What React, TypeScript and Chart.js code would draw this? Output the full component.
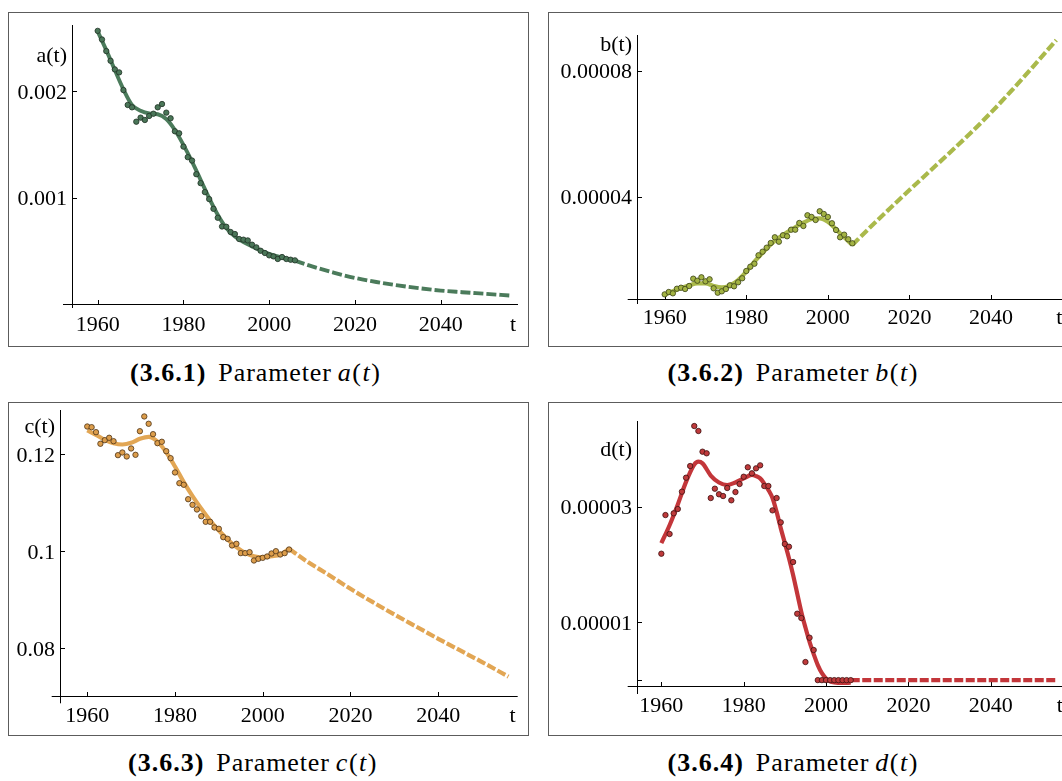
import React, { useEffect, useRef } from "react";
import { Chart, registerables } from "chart.js";

Chart.register(...registerables);

// ---------- data ----------
const YEARS = [
  1960, 1961, 1962, 1963, 1964, 1965, 1966, 1967, 1968, 1969,
  1970, 1971, 1972, 1973, 1974, 1975, 1976, 1977, 1978, 1979,
  1980, 1981, 1982, 1983, 1984, 1985, 1986, 1987, 1988, 1989,
  1990, 1991, 1992, 1993, 1994, 1995, 1996, 1997, 1998, 1999,
  2000, 2001, 2002, 2003, 2004, 2005, 2006,
];

const FIT_YEARS = [
  1960, 1962, 1964, 1966, 1968, 1970, 1972, 1974, 1976, 1978, 1980, 1982,
  1984, 1986, 1988, 1990, 1992, 1994, 1996, 1998, 2000, 2002, 2004, 2006,
];

const PROJ_YEARS = [2006, 2010, 2015, 2020, 2025, 2030, 2035, 2040, 2045, 2050, 2056];

// a(t)
const A_OBS = [
  0.002565, 0.002484, 0.002375, 0.002284, 0.002203, 0.002175, 0.002009, 0.001869, 0.001847, 0.001712,
  0.00175, 0.001728, 0.001766, 0.001787, 0.001847, 0.001878, 0.001797, 0.001744, 0.001622, 0.001603,
  0.001478, 0.001379, 0.001347, 0.001219, 0.001135, 0.001051, 0.000985, 0.000894, 0.00081, 0.000728,
  0.000725, 0.000676, 0.000657, 0.00061, 0.000604, 0.000597, 0.000557, 0.000532, 0.0005, 0.000479,
  0.000457, 0.000447, 0.000423, 0.000441, 0.000423, 0.000416, 0.00041,
];
const A_FIT = [
  0.00256, 0.002384, 0.002197, 0.002016, 0.001869, 0.001815, 0.00179, 0.001782, 0.001737, 0.001634,
  0.001494, 0.001337, 0.001166, 0.000994, 0.000838, 0.000713, 0.000634, 0.000582, 0.000541, 0.000503,
  0.000472, 0.000447, 0.000425, 0.000407,
];
const A_PROJ = [
  0.000407, 0.000353, 0.000295, 0.000245, 0.000207, 0.000175, 0.000148, 0.000126, 0.000111, 0.000097, 0.00008,
];

// b(t)
const B_OBS = [
  0.9e-5, 0.975e-5, 0.933e-5, 1.079e-5, 1.111e-5, 1.07e-5, 1.165e-5, 1.397e-5, 1.333e-5, 1.441e-5,
  1.314e-5, 1.378e-5, 1.092e-5, 0.952e-5, 0.997e-5, 1.07e-5, 1.187e-5, 1.156e-5, 1.283e-5, 1.41e-5,
  1.641e-5, 1.778e-5, 1.873e-5, 2.14e-5, 2.254e-5, 2.381e-5, 2.53e-5, 2.711e-5, 2.571e-5, 2.775e-5,
  2.743e-5, 2.952e-5, 2.952e-5, 3.165e-5, 3.07e-5, 3.409e-5, 3.356e-5, 3.26e-5, 3.537e-5, 3.451e-5,
  3.356e-5, 3.156e-5, 2.943e-5, 2.711e-5, 2.794e-5, 2.648e-5, 2.52e-5,
];
const B_FIT = [
  0.889e-5, 0.997e-5, 1.1e-5, 1.187e-5, 1.25e-5, 1.25e-5, 1.165e-5, 1.12e-5, 1.187e-5, 1.355e-5,
  1.62e-5, 1.937e-5, 2.222e-5, 2.487e-5, 2.698e-5, 2.868e-5, 3.028e-5, 3.175e-5, 3.29e-5, 3.314e-5,
  3.206e-5, 2.964e-5, 2.711e-5, 2.467e-5,
];
const B_PROJ = [
  2.467e-5, 2.98e-5, 3.6e-5, 4.21e-5, 4.81e-5, 5.41e-5, 6.02e-5, 6.67e-5, 7.36e-5, 8.08e-5, 8.97e-5,
];

// c(t)
const C_OBS = [
  0.12577, 0.12563, 0.1246, 0.12221, 0.12295, 0.12344, 0.12274, 0.11986, 0.12041, 0.11959,
  0.12124, 0.11993, 0.1248, 0.12784, 0.12633, 0.12419, 0.12233, 0.12262, 0.12068, 0.11924,
  0.11629, 0.11408, 0.11375, 0.11078, 0.10962, 0.10866, 0.10728, 0.10612, 0.10612, 0.10495,
  0.10468, 0.10295, 0.10261, 0.10124, 0.10158, 0.09966, 0.09966, 0.09986, 0.09814, 0.09849,
  0.09869, 0.09897, 0.09959, 0.10006, 0.09938, 0.09966, 0.10041,
];
const C_FIT = [
  0.12495, 0.12405, 0.12302, 0.12233, 0.12206, 0.1224, 0.12323, 0.12364, 0.12268, 0.12047,
  0.11753, 0.11429, 0.1114, 0.1088, 0.10639, 0.10433, 0.10247, 0.10089, 0.09973, 0.09903,
  0.09883, 0.09903, 0.09938, 0.10056,
];
const C_PROJ = [
  0.10056, 0.098, 0.0952, 0.0923, 0.0896, 0.087, 0.0845, 0.082, 0.0796, 0.0772, 0.0742,
];

// d(t)
const D_OBS = [
  2.187e-5, 2.856e-5, 2.528e-5, 2.886e-5, 2.96e-5, 3.26e-5, 3.502e-5, 3.704e-5, 4.396e-5, 4.31e-5,
  3.952e-5, 3.924e-5, 3.15e-5, 3.312e-5, 3.215e-5, 3.185e-5, 3.324e-5, 3.111e-5, 3.254e-5, 3.393e-5,
  3.519e-5, 3.682e-5, 3.578e-5, 3.664e-5, 3.716e-5, 3.358e-5, 3.358e-5, 2.937e-5, 3.15e-5, 2.73e-5,
  2.355e-5, 2.308e-5, 2.043e-5, 1.149e-5, 1.074e-5, 0.313e-5, 0.734e-5, 0.521e-5, 0, 0,
  0, 0, 0, 0, 0, 0, 0,
];
const D_FIT_YEARS = [
  1960, 1962, 1964, 1966, 1968, 1969, 1970, 1972, 1974, 1976, 1978, 1980, 1982, 1983, 1984, 1985,
  1986, 1987, 1988, 1989, 1990, 1991, 1992, 1993, 1994, 1995, 1996, 1997, 1998, 1999, 2000, 2001,
  2002, 2004, 2006,
];
const D_FIT = [
  2.37e-5, 2.68e-5, 3.04e-5, 3.43e-5, 3.73e-5, 3.78e-5, 3.75e-5, 3.54e-5, 3.42e-5, 3.375e-5, 3.42e-5,
  3.49e-5, 3.55e-5, 3.53e-5, 3.49e-5, 3.4e-5, 3.29e-5, 3.15e-5, 2.91e-5, 2.63e-5, 2.37e-5, 2.11e-5,
  1.82e-5, 1.5e-5, 1.18e-5, 0.91e-5, 0.66e-5, 0.45e-5, 0.26e-5, 0.12e-5, 0.03e-5, -0.02e-5,
  -0.04e-5, -0.05e-5, -0.045e-5,
];
const D_PROJ_YEARS = [2006, 2056];
const D_PROJ = [0, 0];

// ---------- ticks & labels ----------
const X_TICKS = [1960, 1980, 2000, 2020, 2040];
const X_TICK_LABELS = ["1960", "1980", "2000", "2020", "2040"];
const A_TICKS = [0.001, 0.002];
const A_TICK_LABELS = ["0.001", "0.002"];
const B_TICKS = [0.00004, 0.00008];
const B_TICK_LABELS = ["0.00004", "0.00008"];
const C_TICKS = [0.08, 0.1, 0.12];
const C_TICK_LABELS = ["0.08", "0.1", "0.12"];
const D_TICKS = [0, 0.00001, 0.00003];
const D_TICK_LABELS = ["", "0.00001", "0.00003"];

const CAPTION_NUMBERS = ["3.6.1", "3.6.2", "3.6.3", "3.6.4"];
const PARAM_NAMES = ["a", "b", "c", "d"];

// ---------- panel layout & style ----------
type Panel = {
  left: number; top: number; width: number; height: number;
  area: { l: number; t: number; r: number; b: number };
  xMin: number; xMax: number; yMin: number; yMax: number;
  crossX: number; crossY: number;
  yTicks: number[]; yTickLabels: string[];
  yNameDrop: number; xLabelDrop: number;
  obs: number[]; fitYears: number[]; fit: number[]; projYears: number[]; proj: number[];
  line: string; fill: string; edge: string; lineW: number; dash: number[];
  capLeft: number; capTop: number;
};

const PANELS: Panel[] = [
  {
    left: 8, top: 12, width: 521, height: 335,
    area: { l: 55, t: 13, r: 510, b: 296 },
    xMin: 1951.907, xMax: 2058.03, yMin: -0.0000375, yMax: 0.00262,
    crossX: 1954.07, crossY: 0,
    yTicks: A_TICKS, yTickLabels: A_TICK_LABELS, yNameDrop: 37.3, xLabelDrop: 26,
    obs: A_OBS, fitYears: FIT_YEARS, fit: A_FIT, projYears: PROJ_YEARS, proj: A_PROJ,
    line: "#4b7b5b", fill: "#4a7658", edge: "#1f3125", lineW: 3.9, dash: [10, 3],
    capLeft: 130, capTop: 360.5,
  },
  {
    left: 548, top: 12, width: 527, height: 335,
    area: { l: 79.7, t: 23, r: 516.4, b: 292 },
    xMin: 1950.93, xMax: 2057.99, yMin: 5.94e-6, yMax: 9.13e-5,
    crossX: 1953.1, crossY: 7.4e-6,
    yTicks: B_TICKS, yTickLabels: B_TICK_LABELS, yNameDrop: 15.7, xLabelDrop: 24.7,
    obs: B_OBS, fitYears: FIT_YEARS, fit: B_FIT, projYears: PROJ_YEARS, proj: B_PROJ,
    line: "#aab94b", fill: "#a3b343", edge: "#3a4116", lineW: 4.2, dash: [9, 3],
    capLeft: 667.5, capTop: 360.5,
  },
  {
    left: 8, top: 402, width: 521, height: 334,
    area: { l: 43.7, t: 8, r: 509.7, b: 301.3 },
    xMin: 1951.9, xMax: 2058.11, yMin: 0.0687, yMax: 0.12917,
    crossX: 1953.9, crossY: 0.0702,
    yTicks: C_TICKS, yTickLabels: C_TICK_LABELS, yNameDrop: 22.7, xLabelDrop: 25,
    obs: C_OBS, fitYears: FIT_YEARS, fit: C_FIT, projYears: PROJ_YEARS, proj: C_PROJ,
    line: "#e2a654", fill: "#dc9d4b", edge: "#4d3418", lineW: 4.2, dash: [9, 2.5],
    capLeft: 128, capTop: 750.5,
  },
  {
    left: 548, top: 402, width: 527, height: 334,
    area: { l: 79.7, t: 19, r: 516.8, b: 292 },
    xMin: 1951.83, xMax: 2057.99, yMin: -2.4e-6, yMax: 4.483e-5,
    crossX: 1954.0, crossY: -0.97e-6,
    yTicks: D_TICKS, yTickLabels: D_TICK_LABELS, yNameDrop: 35, xLabelDrop: 25,
    obs: D_OBS, fitYears: D_FIT_YEARS, fit: D_FIT, projYears: D_PROJ_YEARS, proj: D_PROJ,
    line: "#c3363a", fill: "#bf3a3b", edge: "#3d1010", lineW: 4.2, dash: [9, 2.5],
    capLeft: 667.5, capTop: 750.5,
  },
];

const TICK_FONT = '22px "Liberation Serif"';

// Axes that cross inside the plot, with inward tick marks, drawn from the chart's scales.
function crossingAxes(p: Panel, yName: string) {
  return {
    id: "crossingAxes",
    beforeDatasetsDraw(chart: any) {
      const { ctx, chartArea: ca, scales } = chart;
      const xs = scales.x;
      const ys = scales.y;
      const ax = Math.round(xs.getPixelForValue(p.crossX)) + 0.5;
      const ay = Math.round(ys.getPixelForValue(p.crossY)) + 0.5;
      ctx.save();
      ctx.strokeStyle = "#000";
      ctx.lineWidth = 1;
      ctx.beginPath();
      ctx.moveTo(ca.left, ay);
      ctx.lineTo(ca.right, ay);
      ctx.moveTo(ax, ca.top);
      ctx.lineTo(ax, ca.bottom);
      X_TICKS.forEach((v) => {
        const px = Math.round(xs.getPixelForValue(v)) + 0.5;
        ctx.moveTo(px, ay);
        ctx.lineTo(px, ay - 4.5);
      });
      p.yTicks.forEach((v) => {
        const py = Math.round(ys.getPixelForValue(v)) + 0.5;
        ctx.moveTo(ax, py);
        ctx.lineTo(ax + 4.5, py);
      });
      ctx.stroke();

      ctx.fillStyle = "#000";
      ctx.font = TICK_FONT;
      ctx.textBaseline = "alphabetic";
      ctx.textAlign = "center";
      X_TICKS.forEach((v, i) => {
        ctx.fillText(X_TICK_LABELS[i], xs.getPixelForValue(v), ay + p.xLabelDrop);
      });
      ctx.textAlign = "right";
      ctx.fillText("t", ca.right - 2, ay + p.xLabelDrop);
      p.yTicks.forEach((v, i) => {
        if (p.yTickLabels[i]) ctx.fillText(p.yTickLabels[i], ax - 5.5, ys.getPixelForValue(v) + 7.7);
      });
      ctx.fillText(yName + "(t)", ax - 5.5, ca.top + p.yNameDrop);
      ctx.restore();
    },
  };
}

function PanelChart({ p, index }: { p: Panel; index: number }) {
  const ref = useRef<HTMLCanvasElement>(null);

  useEffect(() => {
    const canvas = ref.current;
    if (!canvas) return;
    const obsPts = YEARS.map((x, i) => ({ x, y: p.obs[i] }));
    const fitPts = p.fitYears.map((x, i) => ({ x, y: p.fit[i] }));
    const projPts = p.projYears.map((x, i) => ({ x, y: p.proj[i] }));

    const chart = new Chart(canvas, {
      type: "scatter",
      data: {
        datasets: [
          {
            data: obsPts,
            showLine: false,
            pointRadius: 2.7,
            pointBorderWidth: 0.8,
            pointBackgroundColor: p.fill,
            pointBorderColor: p.edge,
          },
          {
            data: fitPts,
            showLine: true,
            borderColor: p.line,
            borderWidth: p.lineW,
            pointRadius: 0,
            cubicInterpolationMode: "monotone",
            borderCapStyle: "butt",
          },
          {
            data: projPts,
            showLine: true,
            borderColor: p.line,
            borderWidth: p.lineW,
            borderDash: p.dash,
            pointRadius: 0,
            cubicInterpolationMode: "monotone",
            borderCapStyle: "butt",
          },
        ],
      } as any,
      options: {
        animation: false,
        responsive: false,
        devicePixelRatio: 1,
        events: [],
        layout: {
          padding: {
            left: p.area.l,
            top: p.area.t,
            right: p.width - p.area.r,
            bottom: p.height - p.area.b,
          },
        },
        plugins: { legend: { display: false }, tooltip: { enabled: false } },
        scales: {
          x: { type: "linear", min: p.xMin, max: p.xMax, display: false },
          y: { type: "linear", min: p.yMin, max: p.yMax, display: false },
        },
      },
      plugins: [crossingAxes(p, PARAM_NAMES[index])],
    });
    return () => chart.destroy();
  }, [p, index]);

  return (
    <>
      <canvas
        ref={ref}
        width={p.width}
        height={p.height}
        style={{ position: "absolute", left: p.left, top: p.top, width: p.width, height: p.height, display: "block" }}
      />
      <div
        style={{
          position: "absolute",
          left: p.left,
          top: p.top,
          width: p.width,
          height: p.height,
          boxSizing: "border-box",
          border: "1px solid #5c5c5c",
          pointerEvents: "none",
        }}
      />
      <div
        style={{
          position: "absolute",
          left: p.capLeft,
          top: p.capTop,
          fontFamily: '"Liberation Serif", serif',
          fontSize: 26,
          lineHeight: "24px",
          whiteSpace: "nowrap",
          color: "#000",
          letterSpacing: "0.9px",
        }}
      >
        <b style={{ letterSpacing: "1px" }}>({CAPTION_NUMBERS[index]})</b>
        <span style={{ marginLeft: 12 }}>Parameter</span>
        <span style={{ marginLeft: 6, letterSpacing: "1.5px" }}>
          <i>{PARAM_NAMES[index]}</i>(<i>t</i>)
        </span>
      </div>
    </>
  );
}

export default function App() {
  return (
    <div
      style={{
        position: "absolute",
        left: 0,
        top: 0,
        width: 1062,
        height: 781,
        overflow: "hidden",
        background: "#fff",
      }}
    >
      {PANELS.map((p, i) => (
        <PanelChart key={i} p={p} index={i} />
      ))}
    </div>
  );
}
